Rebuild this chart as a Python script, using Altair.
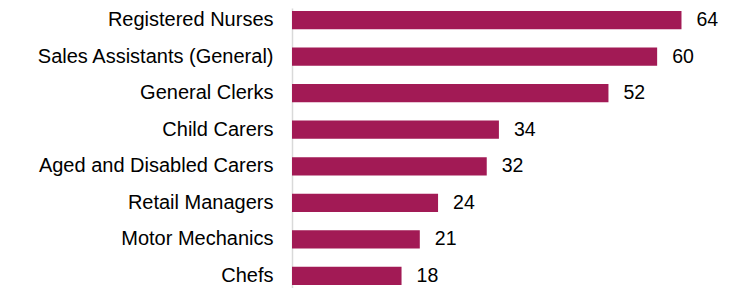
import altair as alt
import pandas as pd

occupations = ["Registered Nurses", "Sales Assistants (General)", "General Clerks",
               "Child Carers", "Aged and Disabled Carers", "Retail Managers",
               "Motor Mechanics", "Chefs"]
values = [64, 60, 52, 34, 32, 24, 21, 18]

df = pd.DataFrame({"occupation": occupations, "value": values})

y = alt.Y("occupation:N", sort=occupations, title=None,
          scale=alt.Scale(paddingInner=0.5, paddingOuter=0.08),
          axis=alt.Axis(labelFontSize=20, labelFont="Liberation Sans", labelColor="#000000",
                        labelPadding=19, ticks=False, domainColor="#d9d9d9", domainWidth=1.5,
                        labelLimit=300))
x = alt.X("value:Q", scale=alt.Scale(domain=[0, 70]), axis=None)

bars = alt.Chart(df).mark_bar(color="#A21A55").encode(x=x, y=y)
text = alt.Chart(df).mark_text(align="left", dx=15, fontSize=19.5, font="Liberation Sans",
                               color="#000000").encode(x=x, y=y, text="value:Q")

chart = (bars + text).properties(
    width=426, height=280,
    autosize="none",
    padding={"left": 284, "top": 0, "right": 0, "bottom": 0},
).configure_view(stroke=None)

chart.save("out.html", embed_options={"renderer": "svg", "actions": False})
